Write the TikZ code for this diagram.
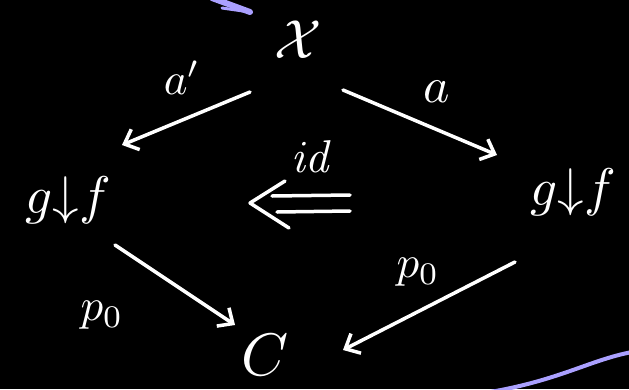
\documentclass[tikz,border=0pt]{standalone}
\usepackage{graphicx}
\usetikzlibrary{arrows.meta}
\newcommand{\bigtxt}[2]{\scalebox{#1}{$#2$}}
\begin{document}
\begin{tikzpicture}[x=1pt,y=-1pt,
  lbl/.style={text=white,inner sep=0pt},
  arr/.style={draw=white,line width=3.5pt,line cap=round,-{Straight Barb[length=12pt,width=22pt]}},
  wline/.style={draw=white,line width=3.5pt,line cap=round,line join=round},
  pen/.style={draw={rgb,255:red,170;green,160;blue,255},line width=4pt,line cap=round}]
\fill[black] (0,0) rectangle (629,389);
\useasboundingbox (0,0) rectangle (629,389);
% nodes
\node[lbl] (X) at (298,40) {\bigtxt{5.5}{\mathcal{X}}};
\node[lbl] (L) at (68,200) {\bigtxt{5.3}{g{\downarrow}f}};
\node[lbl] (R) at (573,192) {\bigtxt{5.3}{g{\downarrow}f}};
\node[lbl] (C) at (265,355) {\bigtxt{6}{C}};
% labels
\node[lbl] (ap) at (182,78) {\bigtxt{4.5}{a'}};
\node[lbl] (a) at (437,92) {\bigtxt{5}{a}};
\node[lbl] (id) at (312,157) {\bigtxt{4.6}{\mathit{id}}};
\node[lbl] (pl) at (102,315) {\bigtxt{4.5}{p_0}};
\node[lbl] (pr) at (418,272) {\bigtxt{4.5}{p_0}};
% arrow endpoints
\coordinate (x1) at (250,92);
\coordinate (l1) at (122,145);
\coordinate (x2) at (343,90);
\coordinate (r1) at (497,155);
\coordinate (l2) at (115,245);
\coordinate (c1) at (235,325);
\coordinate (r2) at (515,262);
\coordinate (c2) at (343,350);
\draw[arr] (x1) -- (l1);
\draw[arr] (x2) -- (r1);
\draw[arr] (l2) -- (c1);
\draw[arr] (r2) -- (c2);
% double arrow id
\coordinate (dt) at (250,203);
\coordinate (du1) at (350,195);
\coordinate (du2) at (272,196);
\coordinate (dl1) at (350,211);
\coordinate (dl2) at (277,212);
\coordinate (db1) at (285,181);
\coordinate (db2) at (289,228);
\draw[wline] (du1) -- (du2);
\draw[wline] (dl1) -- (dl2);
\draw[wline] (db1) -- (dt) -- (db2);
% purple pen strokes
\coordinate (p1) at (212,-2);
\coordinate (p2) at (250,12);
\draw[pen,line width=6pt] (p1) -- (p2);
\draw[pen,line width=3pt] (222,8) -- (p2);
\coordinate (q1) at (490,392);
\coordinate (q2) at (632,352);
\draw[pen] (q1) .. controls (560,380) and (590,360) .. (q2);
\end{tikzpicture}
\end{document}
